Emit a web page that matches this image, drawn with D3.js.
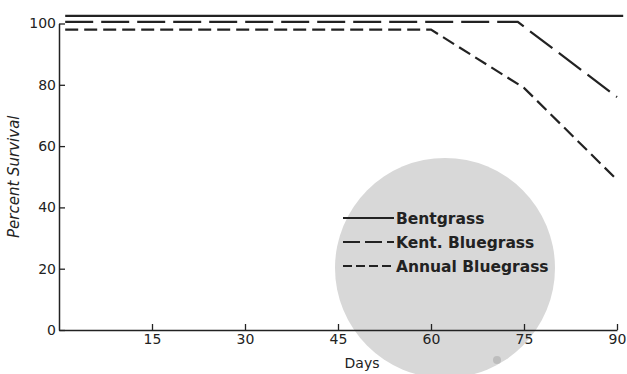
<!DOCTYPE html>
<html><head><meta charset="utf-8">
<script src="https://cdn.jsdelivr.net/npm/d3@7"></script>
<style>body{margin:0;background:#fff}svg{display:block}text{font-family:"DejaVu Sans",sans-serif;fill:#222}</style>
</head><body><svg id="c" width="627" height="374"></svg>
<script>
const xTicks = [15, 30, 45, 60, 75, 90];
const yTicks = [0, 20, 40, 60, 80, 100];
const seriesNames = ["Bentgrass", "Kent. Bluegrass", "Annual Bluegrass"];
const bentDays = [1, 91];
const bentValues = [102.5, 102.5];
const kentDays = [1, 74, 90];
const kentValues = [100.5, 100.5, 76];
const annualDays = [1, 60, 75, 90];
const annualValues = [98, 98, 79, 49];

const svg = d3.select("#c");
const x = d3.scaleLinear().domain([0, 90]).range([59, 617]);
const y = d3.scaleLinear().domain([0, 100]).range([330, 23.5]);
const ink = "#222";

// scan blemish
svg.append("circle").attr("cx", 445).attr("cy", 268).attr("r", 110).attr("fill", "#d8d8d8");
svg.append("circle").attr("cx", 497).attr("cy", 360).attr("r", 4).attr("fill", "#bdbdbd");

const xAxis = d3.axisBottom(x).tickValues(xTicks).tickSize(-6).tickPadding(4).tickSizeOuter(0);
const gx = svg.append("g").attr("transform", `translate(0,${y(0)})`).call(xAxis);
gx.select(".domain").attr("stroke", ink).attr("stroke-width", 1.5);
gx.selectAll(".tick line").attr("stroke", ink).attr("stroke-width", 1.3);
gx.selectAll("text").attr("font-size", 14).attr("fill", ink);

const yAxis = d3.axisLeft(y).tickValues(yTicks).tickSize(-6).tickPadding(3).tickSizeOuter(0);
const gy = svg.append("g").attr("transform", `translate(${x(0)},0)`).call(yAxis);
gy.select(".domain").attr("stroke", ink).attr("stroke-width", 1.5);
gy.selectAll(".tick line").attr("stroke", ink).attr("stroke-width", 1.3);
gy.selectAll("text").attr("font-size", 14).attr("fill", ink);

const dashes = [null, "28,8", "13,6"];
const legendDashes = [null, "17,5", "9,4"];
const data = [[bentDays, bentValues], [kentDays, kentValues], [annualDays, annualValues]];
const line = d3.line().x(d => x(d[0])).y(d => y(d[1]));
data.forEach(([ds, vs], i) => {
  const pts = ds.map((d, j) => [d, vs[j]]);
  svg.append("path").attr("d", line(pts)).attr("fill", "none").attr("stroke", ink)
    .attr("stroke-width", 2.2).attr("stroke-dasharray", dashes[i]);
});

// legend
seriesNames.forEach((n, i) => {
  const yy = 218 + i * 24;
  svg.append("line").attr("x1", 343).attr("x2", 394).attr("y1", yy).attr("y2", yy)
    .attr("stroke", ink).attr("stroke-width", 2.2).attr("stroke-dasharray", legendDashes[i]);
  svg.append("text").attr("x", 396).attr("y", yy + 5.5).attr("font-size", 15.5).attr("font-weight", "bold").text(n);
});

svg.append("text").attr("x", 362).attr("y", 368).attr("text-anchor", "middle").attr("font-size", 14).text("Days");
svg.append("text").attr("transform", `translate(19,${y(50)}) rotate(-90)`).attr("text-anchor", "middle")
  .attr("font-size", 15).attr("font-style", "italic").text("Percent Survival");
</script></body></html>
